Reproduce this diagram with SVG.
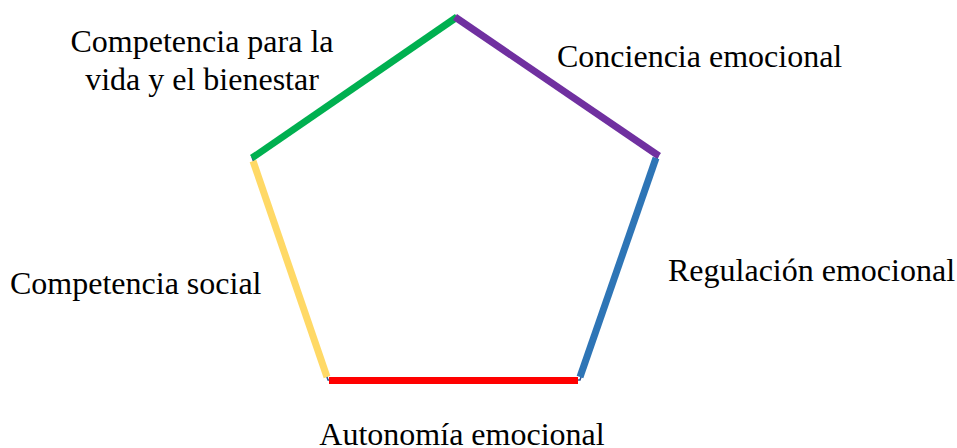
<svg xmlns="http://www.w3.org/2000/svg" width="957" height="448" viewBox="0 0 957 448">
<style>
  .lbl { font-family: "Liberation Serif", "Times New Roman", serif; font-size: 32px; fill: #000; }
  .side { fill: none; stroke-width: 7; stroke-linecap: butt; }
</style>
<rect width="957" height="448" fill="#fff"/>
<g id="connectors">
  <polygon points="456,17 658,156 580,380 328,380 252,157" fill="none" stroke="#2F528F" stroke-width="1.5"/>
  <line class="side" x1="252" y1="158" x2="457" y2="17" stroke="#00B050"/>
  <line class="side" x1="455" y1="17" x2="659" y2="156" stroke="#7030A0"/>
  <line class="side" x1="656" y1="158" x2="580" y2="377" stroke="#2E75B6"/>
  <line class="side" x1="329" y1="380.5" x2="578" y2="380.5" stroke="#FF0000"/>
  <line class="side" x1="253" y1="161" x2="327" y2="377" stroke="#FFD966"/>
</g>
<g id="node-conciencia"><text class="lbl" x="557" y="67">Conciencia emocional</text></g>
<g id="node-regulacion"><text class="lbl" x="668" y="281">Regulación emocional</text></g>
<g id="node-autonomia"><text class="lbl" x="462" y="445" text-anchor="middle">Autonomía emocional</text></g>
<g id="node-social"><text class="lbl" x="10" y="294">Competencia social</text></g>
<g id="node-vida"><text class="lbl" x="202" y="52" text-anchor="middle">Competencia para la</text><text class="lbl" x="202" y="90" text-anchor="middle">vida y el bienestar</text></g>
</svg>
